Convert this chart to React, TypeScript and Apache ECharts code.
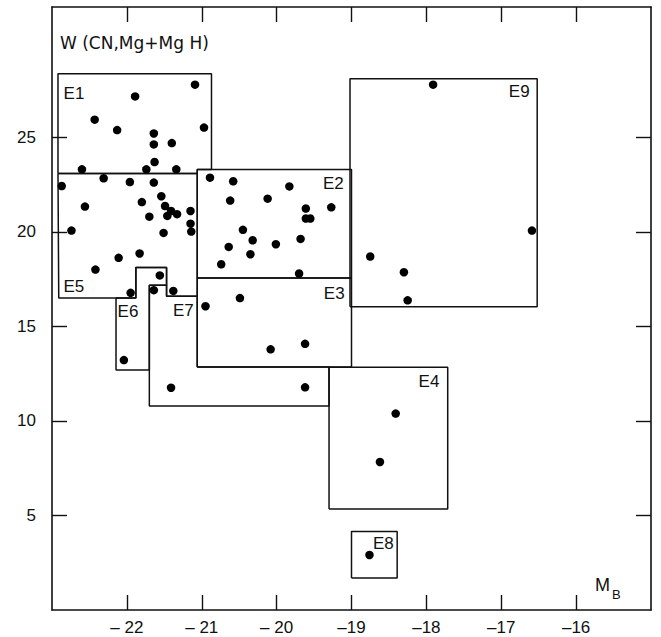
import React, { useEffect, useRef } from "react";
import * as echarts from "echarts";

// ---- axes ----
const xMin = -23;
const xMax = -15;
const yMin = 0;
const yMax = 31.9;
const xTickValues = [-22, -21, -20, -19, -18, -17, -16];
const xTickLabels = ["\u2013 22", "\u2013 21", "\u2013 20", "\u201319", "\u201318", "\u201317", "\u201316"];
const yTickValues = [5, 10, 15, 20, 25];
const yTickLabels = ["5", "10", "15", "20", "25"];

// ---- galaxies: [M_B, W(CN,Mg+MgH)] ----
const pointsE1E5: [number, number][] = [
  [-21.09, 27.79], [-21.89, 27.17], [-22.43, 25.94], [-22.13, 25.39], [-20.97, 25.52],
  [-21.64, 25.21], [-21.64, 24.63], [-21.4, 24.7], [-21.63, 23.7], [-22.6, 23.31],
  [-21.74, 23.31], [-21.34, 23.31], [-22.31, 22.84], [-22.87, 22.43], [-21.96, 22.64],
  [-21.64, 22.61], [-21.54, 21.89], [-22.56, 21.34], [-21.8, 21.58], [-21.49, 21.37],
  [-21.41, 21.11], [-21.33, 20.94], [-21.46, 20.85], [-21.7, 20.81], [-21.15, 21.11],
  [-21.15, 20.44], [-21.14, 20.02], [-22.74, 20.07], [-21.51, 19.95], [-21.83, 18.86],
  [-22.11, 18.63], [-22.42, 18.01], [-21.56, 17.7], [-21.95, 16.78], [-21.64, 16.92],
  [-21.38, 16.88],
];
const pointsE2: [number, number][] = [
  [-20.89, 22.87], [-20.58, 22.68], [-19.83, 22.41], [-20.62, 21.66], [-20.12, 21.76],
  [-19.61, 21.24], [-19.27, 21.3], [-19.61, 20.71], [-19.55, 20.71], [-20.45, 20.11],
  [-20.32, 19.56], [-20.64, 19.21], [-20.01, 19.35], [-19.68, 19.63], [-20.35, 18.82],
  [-20.74, 18.29], [-19.7, 17.8],
];
const pointsE3: [number, number][] = [
  [-20.95, 16.07], [-20.49, 16.5], [-20.08, 13.79], [-19.62, 14.08],
];
const pointsE6E7: [number, number][] = [
  [-22.04, 13.22], [-21.41, 11.76], [-19.62, 11.78],
];
const pointsE9: [number, number][] = [
  [-17.91, 27.79], [-16.59, 20.07], [-18.75, 18.7], [-18.3, 17.87], [-18.25, 16.38],
];
const pointsE4E8: [number, number][] = [
  [-18.41, 10.39], [-18.62, 7.83], [-18.76, 2.91],
];

// ---- group outlines (vertices in data units) ----
const boxE1: [number, number][] = [
  [-22.92, 23.09], [-21.06, 23.09], [-21.06, 23.3], [-20.87, 23.3], [-20.87, 28.37], [-22.92, 28.37], [-22.92, 23.09],
];
const boxE5: [number, number][] = [
  [-22.92, 23.09], [-21.06, 23.09], [-21.06, 16.6], [-21.47, 16.6], [-21.47, 18.12], [-21.88, 18.12],
  [-21.88, 16.5], [-22.91, 16.5], [-22.92, 23.09],
];
const boxE6: [number, number][] = [
  [-22.145, 16.5], [-21.88, 16.5], [-21.88, 18.12], [-21.47, 18.12], [-21.47, 17.18], [-21.7, 17.18],
  [-21.7, 12.69], [-22.145, 12.69], [-22.145, 16.5],
];
const boxE7: [number, number][] = [
  [-21.7, 17.18], [-21.47, 17.18], [-21.47, 16.6], [-21.06, 16.6], [-21.06, 12.85], [-19.3, 12.85],
  [-19.3, 10.79], [-21.7, 10.79], [-21.7, 17.18],
];
const boxE2: [number, number][] = [
  [-21.06, 17.57], [-19.0, 17.57], [-19.0, 23.3], [-21.06, 23.3], [-21.06, 17.57],
];
const boxE3: [number, number][] = [
  [-21.06, 12.85], [-19.0, 12.85], [-19.0, 17.57], [-21.06, 17.57], [-21.06, 12.85],
];
const boxE4: [number, number][] = [
  [-19.3, 5.34], [-17.715, 5.34], [-17.715, 12.84], [-19.3, 12.84], [-19.3, 5.34],
];
const boxE8: [number, number][] = [
  [-19.0, 1.69], [-18.39, 1.69], [-18.39, 4.15], [-19.0, 4.15], [-19.0, 1.69],
];
const boxE9: [number, number][] = [
  [-19.02, 16.04], [-16.52, 16.04], [-16.52, 28.1], [-19.02, 28.1], [-19.02, 16.04],
];
const boxes = [boxE1, boxE5, boxE6, boxE7, boxE2, boxE3, boxE4, boxE8, boxE9];

// ---- group labels ----
const groupNames = ["E1", "E2", "E3", "E4", "E5", "E6", "E7", "E8", "E9"];
const groupLabelPos: [number, number][] = [
  [-22.706, 27.35], [-19.243, 22.56], [-19.231, 16.75], [-17.965, 12.11], [-22.709, 17.1],
  [-21.985, 15.78], [-21.246, 15.86], [-18.575, 3.54], [-16.76, 27.41],
];

const yTitle = "W (CN,Mg+Mg H)";
const xTitleMain = "M";
const xTitleSub = "B";

const FONT = "'Liberation Sans', Arial, sans-serif";
const TITLE_FONT = "'DejaVu Sans', sans-serif";
const INK = "#111";

export default function App() {
  const ref = useRef<HTMLDivElement | null>(null);

  useEffect(() => {
    document.body.style.margin = "0";
    if (!ref.current) return;
    const chart = echarts.init(ref.current, null, { renderer: "svg" });

    const axisLine = { show: true, onZero: false, lineStyle: { color: INK, width: 1.6 } };
    const tickStyle = { color: INK, width: 1.4 };

    const allPoints = [
      ...pointsE1E5, ...pointsE2, ...pointsE3, ...pointsE6E7, ...pointsE9, ...pointsE4E8,
    ];

    const option: any = {
      animation: false,
      backgroundColor: "#fff",
      textStyle: { fontFamily: FONT },
      grid: { left: 52, right: 10, top: 7, bottom: 27, containLabel: false },
      title: {
        text: yTitle,
        left: 55,
        top: 29,
        textStyle: { fontFamily: TITLE_FONT, fontSize: 17, fontWeight: "normal", color: INK },
      },
      xAxis: [
        {
          type: "value", min: xMin, max: xMax, position: "bottom",
          axisLine, splitLine: { show: false },
          axisTick: { show: true, inside: true, length: 15, lineStyle: tickStyle, customValues: xTickValues },
          axisLabel: {
            show: true, customValues: xTickValues, margin: 9, fontSize: 17, color: INK, fontFamily: FONT,
            formatter: (v: number) => {
              const i = xTickValues.indexOf(Math.round(v));
              return i >= 0 ? xTickLabels[i] : "";
            },
          },
        },
        {
          type: "value", min: xMin, max: xMax, position: "top",
          axisLine, splitLine: { show: false },
          axisTick: { show: true, inside: true, length: 15, lineStyle: tickStyle, customValues: xTickValues },
          axisLabel: { show: false },
        },
      ],
      yAxis: [
        {
          type: "value", min: yMin, max: yMax, position: "left",
          axisLine, splitLine: { show: false },
          axisTick: { show: true, inside: true, length: 15, lineStyle: tickStyle, customValues: yTickValues },
          axisLabel: {
            show: true, customValues: yTickValues, margin: 16, fontSize: 17, color: INK, fontFamily: FONT,
            formatter: (v: number) => {
              const i = yTickValues.indexOf(Math.round(v));
              return i >= 0 ? yTickLabels[i] : "";
            },
          },
        },
        {
          type: "value", min: yMin, max: yMax, position: "right",
          axisLine, splitLine: { show: false },
          axisTick: { show: true, inside: true, length: 15, lineStyle: tickStyle, customValues: yTickValues },
          axisLabel: { show: false },
        },
      ],
      series: [
        ...boxes.map((b) => ({
          type: "line",
          data: b,
          xAxisIndex: 0,
          yAxisIndex: 0,
          symbol: "none",
          silent: true,
          lineStyle: { color: INK, width: 1.5 },
          z: 2,
        })),
        {
          type: "scatter",
          data: allPoints,
          xAxisIndex: 0,
          yAxisIndex: 0,
          symbol: "circle",
          symbolSize: 8.5,
          itemStyle: { color: "#000", opacity: 1 },
          silent: true,
          z: 3,
        },
        {
          type: "scatter",
          data: groupNames.map((n, i) => ({ name: n, value: groupLabelPos[i] })),
          xAxisIndex: 0,
          yAxisIndex: 0,
          symbolSize: 1,
          itemStyle: { color: "transparent" },
          silent: true,
          label: {
            show: true, position: "inside", formatter: "{b}", fontSize: 17, color: INK,
            fontFamily: FONT, opacity: 1, textBorderWidth: 0,
          },
          z: 4,
        },
      ],
      graphic: [
        {
          type: "text", left: 595, top: 576,
          style: { text: xTitleMain, fontSize: 18, fill: INK, fontFamily: FONT },
        },
        {
          type: "text", left: 612, top: 588,
          style: { text: xTitleSub, fontSize: 13, fill: INK, fontFamily: FONT },
        },
      ],
    };

    chart.setOption(option);
    return () => chart.dispose();
  }, []);

  return <div ref={ref} style={{ width: 661, height: 637 }} />;
}
